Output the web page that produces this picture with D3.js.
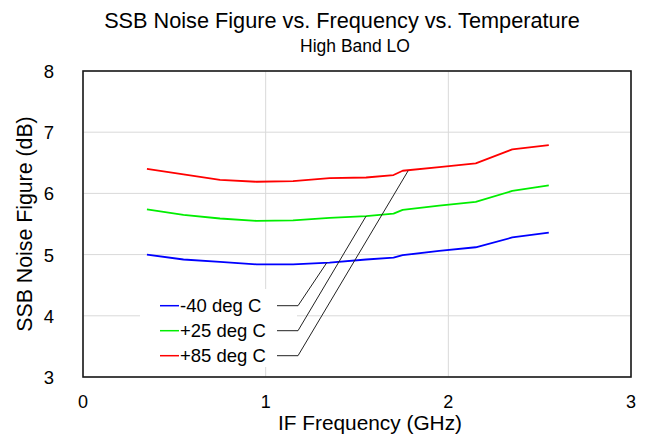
<!DOCTYPE html>
<html>
<head>
<meta charset="utf-8">
<script src="https://cdn.jsdelivr.net/npm/d3@7"></script>
<style>
  html, body { margin: 0; padding: 0; background: #fff; }
  svg text { font-family: "Liberation Sans", Arial, sans-serif; fill: #000; }
</style>
</head>
<body>
<svg id="chart" width="650" height="434"></svg>
<script>
// ---- data ----
const freqGHz = [0.35, 0.55, 0.75, 0.95, 1.15, 1.35, 1.55, 1.70, 1.75, 1.95, 2.15, 2.35, 2.55];
const nfMinus40 = [5.00, 4.92, 4.88, 4.84, 4.84, 4.87, 4.92, 4.95, 4.99, 5.06, 5.12, 5.28, 5.36];
const nfPlus25  = [5.74, 5.65, 5.59, 5.55, 5.56, 5.60, 5.63, 5.67, 5.73, 5.80, 5.86, 6.04, 6.13];
const nfPlus85  = [6.40, 6.31, 6.22, 6.19, 6.20, 6.25, 6.26, 6.30, 6.37, 6.43, 6.49, 6.72, 6.79];
const seriesNames = ["-40 deg C", "+25 deg C", "+85 deg C"];
const seriesColors = ["#0000ff", "#00ee00", "#ff0000"];
const xTicks = [0, 1, 2, 3];
const yTicks = [3, 4, 5, 6, 7, 8];
// leader-line anchor points on each series (x in GHz, y in dB)
const leaderTargets = [[1.335, 4.87], [1.55, 5.63], [1.78, 6.37]];

const series = [nfMinus40, nfPlus25, nfPlus85];

const svg = d3.select("#chart");
const L = 83, R = 631, T = 71, B = 377;

const x = d3.scaleLinear().domain([0, 3]).range([L, R]);
const y = d3.scaleLinear().domain([3, 8]).range([B, T]);

// gridlines
const grid = svg.append("g");
grid.selectAll(".gy").data(yTicks).enter().append("line")
  .attr("x1", L).attr("x2", R)
  .attr("y1", d => y(d)).attr("y2", d => y(d))
  .attr("stroke", "#d9d9d9").attr("stroke-width", 1);
grid.selectAll(".gx").data(xTicks).enter().append("line")
  .attr("y1", T).attr("y2", B)
  .attr("x1", d => x(d)).attr("x2", d => x(d))
  .attr("stroke", "#d9d9d9").attr("stroke-width", 1);

// series lines
const line = d3.line().x((d, i) => x(freqGHz[i])).y(d => y(d));
series.forEach((s, k) => {
  svg.append("path").datum(s)
    .attr("d", line)
    .attr("fill", "none")
    .attr("stroke", seriesColors[k])
    .attr("stroke-width", 1.8)
    .attr("stroke-linejoin", "round");
});

// legend
const legX = 140, legY = 289, legW = 157, legH = 78;
svg.append("rect").attr("x", legX).attr("y", legY).attr("width", legW).attr("height", legH)
  .attr("fill", "#fff");
const rowY = [305.7, 330.7, 355.7];
seriesNames.forEach((name, k) => {
  svg.append("line")
    .attr("x1", 160).attr("x2", 179)
    .attr("y1", rowY[k]).attr("y2", rowY[k])
    .attr("stroke", seriesColors[k]).attr("stroke-width", 1.5);
  svg.append("text")
    .attr("x", 180).attr("y", rowY[k] + 6.5)
    .attr("font-size", 18.5)
    .text(name);
  // leader line
  const tx = x(leaderTargets[k][0]), ty = y(leaderTargets[k][1]);
  svg.append("polyline")
    .attr("points", `277,${rowY[k]} 298,${rowY[k]} ${tx},${ty}`)
    .attr("fill", "none")
    .attr("stroke", "#222")
    .attr("stroke-width", 1);
});

// frame
svg.append("rect").attr("x", L).attr("y", T).attr("width", R - L).attr("height", B - T)
  .attr("fill", "none").attr("stroke", "#1a1a1a").attr("stroke-width", 1.6);

// tick labels
svg.selectAll(".xt").data(xTicks).enter().append("text")
  .attr("x", d => x(d)).attr("y", 408)
  .attr("text-anchor", "middle").attr("font-size", 18)
  .text(d => d);
svg.selectAll(".yt").data(yTicks).enter().append("text")
  .attr("x", 54).attr("y", d => y(d) + 7)
  .attr("text-anchor", "end").attr("font-size", 18.5)
  .text(d => d);

// titles
svg.append("text").attr("x", 342).attr("y", 28)
  .attr("text-anchor", "middle").attr("font-size", 21.7)
  .text("SSB Noise Figure vs. Frequency vs. Temperature");
svg.append("text").attr("x", 355).attr("y", 52)
  .attr("text-anchor", "middle").attr("font-size", 17.5)
  .text("High Band LO");
svg.append("text").attr("x", 370).attr("y", 430)
  .attr("text-anchor", "middle").attr("font-size", 19.5)
  .attr("textLength", 184).attr("lengthAdjust", "spacingAndGlyphs")
  .text("IF Frequency (GHz)");
svg.append("text")
  .attr("transform", "translate(32,224) rotate(-90)")
  .attr("text-anchor", "middle").attr("font-size", 21.3)
  .text("SSB Noise Figure (dB)");
</script>
</body>
</html>
